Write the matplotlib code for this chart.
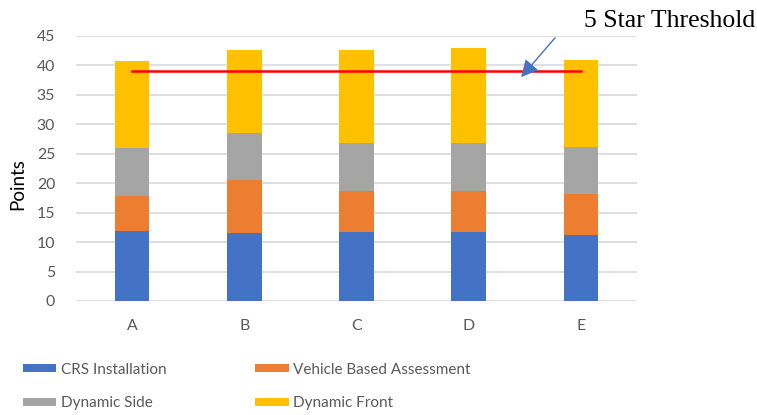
import numpy as np
import matplotlib
matplotlib.use("Agg")
import matplotlib.pyplot as plt

# Points per test category for each child seat
seats = ["A", "B", "C", "D", "E"]
crs_installation = [11.9, 11.5, 11.7, 11.7, 11.2]
vehicle_assessment = [6.0, 9.1, 7.0, 7.0, 7.0]
dynamic_side = [8.0, 7.9, 8.1, 8.1, 8.0]
dynamic_front = [14.9, 14.2, 15.8, 16.1, 14.8]
five_star_threshold = 39

series = [
    ("CRS Installation", crs_installation, "#4472C4"),
    ("Vehicle Based Assessment", vehicle_assessment, "#ED7D31"),
    ("Dynamic Side", dynamic_side, "#A5A5A5"),
    ("Dynamic Front", dynamic_front, "#FFC000"),
]

plt.rcParams.update({"font.family": "Lato", "font.size": 11.4})
TICK_GREY = "#595959"

fig = plt.figure(figsize=(7.57, 4.15), dpi=100)
ax = fig.add_axes([0.1004, 0.2747, 0.7411, 0.6386])

x = np.arange(len(seats))
bottom = np.zeros(len(seats))
handles = []
for label, vals, colour in series:
    h = ax.bar(x, vals, 0.31, bottom=bottom, color=colour, label=label, zorder=2)
    handles.append(h)
    bottom += np.array(vals)

ax.plot([x[0], x[-1]], [five_star_threshold] * 2, color="#FF0000", lw=1.8, zorder=3)

ax.set_xlim(-0.5, len(seats) - 0.5)
ax.set_ylim(0, 45)
ax.set_yticks(range(0, 46, 5))
ax.set_xticks(x, seats)
ax.grid(axis="y", color="#D9D9D9", lw=1.2, zorder=0)
ax.set_axisbelow(True)
for s in ax.spines.values():
    s.set_visible(False)
ax.tick_params(axis="y", length=0, pad=15, colors=TICK_GREY, labelsize=11.4)
ax.tick_params(axis="x", length=0, pad=13, colors=TICK_GREY, labelsize=11.4)

ax.set_ylabel("Points", fontsize=13.5, color="black")
ax.yaxis.set_label_coords(-0.088, 0.44)

# threshold callout
ax.annotate("", xy=(3.467, 38.0), xytext=(3.77, 44.7),
            arrowprops=dict(arrowstyle="-|>,head_length=0.9,head_width=0.45",
                            color="#4472C4", lw=1.0, shrinkA=0, shrinkB=0),
            annotation_clip=False, zorder=4)
fig.text(0.9974, 0.935, "5 Star Threshold", ha="right", va="baseline",
         fontsize=18.5, family="Liberation Serif", color="black")

# legend fills column by column, so order handles to read across the rows
order = [0, 2, 1, 3]
fig.legend(handles=[handles[i] for i in order], loc="upper left",
           bbox_to_anchor=(0.03, 0.126), ncol=2, frameon=False,
           handlelength=2.2, handleheight=0.45, handletextpad=0.3,
           columnspacing=5.8, labelspacing=1.27, borderpad=0,
           borderaxespad=0, labelcolor=TICK_GREY, fontsize=11)

fig.savefig("out.png", dpi=100)
